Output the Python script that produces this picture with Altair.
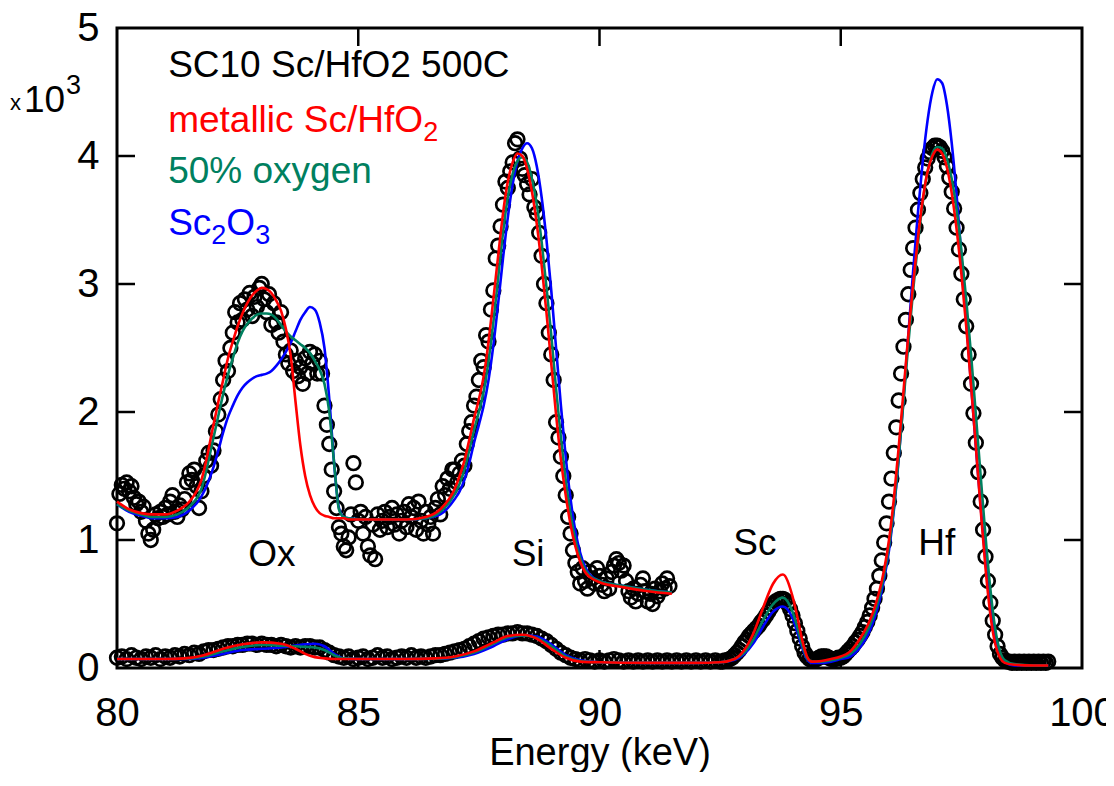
import altair as alt
import pandas as pd

FONT = "Liberation Sans"
RED = "#ff0000"
GREEN = "#00805f"
BLUE = "#0000ff"

# ---------------- measured spectrum (open circles) ----------------
# magnified copy of the low-energy part, channels every 0.05 keV from 80.00 keV
upper_counts = [
    1.13, 1.36, 1.43, 1.40, 1.45, 1.38, 1.42, 1.33, 1.28, 1.30, 1.22, 1.26, 1.15, 1.05, 1.00, 1.08, 1.20, 1.17, 1.22, 1.18,
    1.25, 1.20, 1.30, 1.35, 1.22, 1.18, 1.27, 1.24, 1.32, 1.45, 1.52, 1.47, 1.55, 1.42, 1.25, 1.38, 1.50, 1.62, 1.68, 1.58,
    1.70, 1.85, 1.98, 2.10, 2.25, 2.40, 2.32, 2.50, 2.62, 2.78, 2.70, 2.85, 2.72, 2.88, 2.80, 2.93, 2.75, 2.90, 2.82, 2.97,
    3.00, 2.88, 2.78, 2.92, 2.68, 2.85, 2.70, 2.62, 2.78, 2.55, 2.45, 2.38, 2.48, 2.32, 2.40, 2.28, 2.35, 2.22, 2.42, 2.30,
    2.47, 2.38, 2.45, 2.30, 2.40, 2.30, 2.05, 1.90, 1.75, 1.55, 1.38, 1.25, 1.10, 1.05, 0.95, 0.92, 1.02, 1.20, 1.60, 1.45,
    1.15, 1.22, 1.05, 1.18, 0.95, 0.88, 1.12, 0.85, 1.20, 1.08, 1.15, 1.22, 1.10, 1.18, 1.25, 1.12, 1.20, 1.05, 1.15, 1.22,
    1.10, 1.28, 1.18, 1.25, 1.08, 1.30, 1.15, 1.05, 1.22, 1.12, 1.18, 1.05, 1.25, 1.32, 1.20, 1.42, 1.35, 1.48, 1.40, 1.55,
    1.55, 1.45, 1.52, 1.62, 1.58, 1.75, 1.85, 1.92, 2.05, 2.12, 2.25, 2.40, 2.35, 2.60, 2.55, 2.80, 2.95, 3.20, 3.30, 3.45,
    3.62, 3.80, 3.75, 3.88, 3.95, 4.10, 4.13, 3.98, 3.90, 3.85, 3.78, 3.70, 3.82, 3.60, 3.55, 3.40, 3.22, 3.00, 2.85, 2.62,
    2.45, 2.25, 1.92, 1.80, 1.65, 1.50, 1.35, 1.18, 1.05, 0.92, 0.82, 0.75, 0.66, 0.78, 0.68, 0.62, 0.75, 0.70, 0.66, 0.78,
    0.72, 0.65, 0.60, 0.70, 0.62, 0.75, 0.80, 0.85, 0.82, 0.76, 0.80, 0.68, 0.60, 0.55, 0.62, 0.52, 0.58, 0.65, 0.70, 0.60,
    0.52, 0.58, 0.50, 0.62, 0.56, 0.60, 0.66, 0.62, 0.70, 0.64,
]
# full spectrum, 80.0-92.4 keV every 0.1 keV
lower_counts_a = [
    0.08, 0.09, 0.07, 0.10, 0.08, 0.07, 0.09, 0.08, 0.10, 0.07,
    0.09, 0.08, 0.10, 0.09, 0.11, 0.10, 0.12, 0.11, 0.13, 0.14,
    0.14, 0.15, 0.16, 0.17, 0.17, 0.18, 0.18, 0.19, 0.19, 0.18,
    0.19, 0.18, 0.18, 0.17, 0.18, 0.17, 0.16, 0.17, 0.16, 0.17,
    0.17, 0.16, 0.16, 0.14, 0.12, 0.10, 0.09, 0.08, 0.09, 0.07,
    0.08, 0.09, 0.07, 0.08, 0.10, 0.08, 0.09, 0.07, 0.08, 0.09,
    0.08, 0.10, 0.08, 0.09, 0.08, 0.09, 0.10, 0.10, 0.11, 0.12,
    0.13, 0.14, 0.15, 0.17, 0.19, 0.21, 0.23, 0.24, 0.25, 0.26,
    0.26, 0.27, 0.27, 0.28, 0.27, 0.27, 0.26, 0.25, 0.23, 0.21,
    0.18, 0.15, 0.12, 0.10, 0.08, 0.07, 0.06, 0.07, 0.06, 0.05,
    0.06, 0.05, 0.06, 0.07, 0.06, 0.05, 0.06, 0.05, 0.06, 0.05,
    0.06, 0.05, 0.06, 0.05, 0.06, 0.05, 0.06, 0.05, 0.06, 0.05,
    0.06, 0.05, 0.06, 0.05, 0.06,
]
# full spectrum, 92.50-99.30 keV every 0.05 keV
lower_counts_b = [
    0.05, 0.05, 0.06, 0.06, 0.07, 0.08, 0.10, 0.12, 0.14, 0.17,
    0.20, 0.22, 0.25, 0.27, 0.29, 0.31, 0.33, 0.36, 0.38, 0.41,
    0.44, 0.47, 0.50, 0.52, 0.53, 0.54, 0.54, 0.53, 0.50, 0.46,
    0.41, 0.35, 0.29, 0.23, 0.17, 0.12, 0.09, 0.07, 0.06, 0.06,
    0.07, 0.08, 0.09, 0.09, 0.09, 0.08, 0.07, 0.07, 0.07, 0.08,
    0.08, 0.09, 0.11, 0.13, 0.15, 0.17, 0.20, 0.22, 0.25, 0.28,
    0.32, 0.36, 0.41, 0.47, 0.54, 0.62, 0.72, 0.84, 0.98, 1.13,
    1.30, 1.48, 1.68, 1.88, 2.09, 2.30, 2.51, 2.72, 2.92, 3.11,
    3.28, 3.44, 3.58, 3.71, 3.82, 3.91, 3.98, 4.03, 4.06, 4.08,
    4.08, 4.07, 4.04, 3.99, 3.92, 3.83, 3.72, 3.59, 3.44, 3.27,
    3.08, 2.88, 2.67, 2.45, 2.22, 1.99, 1.76, 1.53, 1.30, 1.08,
    0.87, 0.68, 0.51, 0.37, 0.26, 0.17, 0.11, 0.08, 0.06, 0.05,
    0.05, 0.04, 0.05, 0.04, 0.05, 0.04, 0.05, 0.04, 0.05, 0.04,
    0.05, 0.04, 0.05, 0.04, 0.05, 0.04, 0.05,
]

# ---------------- simulated fits (lines) ----------------
U_X = [80.0, 80.25, 80.5, 80.75, 81.0, 81.25, 81.5, 81.75,
       82.0, 82.1, 82.2, 82.3, 82.4, 82.5, 82.6, 82.7, 82.8, 82.9,
       83.0, 83.1, 83.2, 83.3, 83.4, 83.5, 83.6, 83.7, 83.8, 83.9,
       84.0, 84.1, 84.2, 84.3, 84.4, 84.5, 84.6, 84.7, 84.8,
       85.2, 85.6, 86.0, 86.4, 86.7,
       87.0, 87.1, 87.2, 87.3, 87.4, 87.5, 87.6, 87.7, 87.8, 87.9,
       88.0, 88.1, 88.2, 88.3, 88.4, 88.5, 88.6, 88.7, 88.8, 88.9,
       89.0, 89.1, 89.2, 89.3, 89.4, 89.5, 89.6, 89.7, 89.8,
       90.0, 90.5, 91.0, 91.5]
U_RED = [1.30, 1.24, 1.21, 1.20, 1.20, 1.23, 1.30, 1.47,
         1.90, 2.08, 2.25, 2.42, 2.55, 2.67, 2.77, 2.85, 2.91, 2.95,
         2.97, 2.96, 2.93, 2.87, 2.79, 2.65, 2.44, 2.08, 1.74, 1.50,
         1.35, 1.26, 1.21, 1.19, 1.18, 1.17, 1.17, 1.17, 1.16,
         1.16, 1.16, 1.16, 1.18, 1.24,
         1.40, 1.50, 1.62, 1.78, 1.95, 2.10, 2.28, 2.55, 2.88, 3.22,
         3.55, 3.80, 3.95, 4.02, 4.00, 3.90, 3.72, 3.47, 3.15, 2.78,
         2.38, 1.98, 1.63, 1.35, 1.12, 0.95, 0.83, 0.75, 0.71,
         0.67, 0.63, 0.60, 0.58]
U_GREEN = [1.28, 1.23, 1.20, 1.18, 1.18, 1.20, 1.26, 1.40,
           1.80, 1.97, 2.14, 2.29, 2.42, 2.54, 2.63, 2.69, 2.73, 2.76,
           2.77, 2.77, 2.76, 2.73, 2.68, 2.63, 2.59, 2.56, 2.53, 2.50,
           2.46, 2.40, 2.33, 2.22, 2.00, 1.60, 1.24, 1.18, 1.17,
           1.16, 1.16, 1.16, 1.17, 1.22,
           1.36, 1.44, 1.55, 1.70, 1.86, 2.00, 2.16, 2.40, 2.70, 3.05,
           3.40, 3.68, 3.86, 3.96, 3.99, 3.95, 3.82, 3.62, 3.33, 2.98,
           2.60, 2.18, 1.80, 1.47, 1.20, 1.00, 0.86, 0.77, 0.72,
           0.68, 0.64, 0.61, 0.59]
U_BLUE = [1.28, 1.22, 1.19, 1.17, 1.17, 1.18, 1.23, 1.34,
          1.57, 1.70, 1.84, 1.96, 2.05, 2.13, 2.19, 2.23, 2.26, 2.28,
          2.29, 2.30, 2.32, 2.36, 2.41, 2.47, 2.54, 2.63, 2.72, 2.78,
          2.82, 2.80, 2.70, 2.50, 2.10, 1.60, 1.25, 1.18, 1.17,
          1.16, 1.16, 1.16, 1.17, 1.20,
          1.32, 1.38, 1.47, 1.60, 1.76, 1.90, 2.05, 2.25, 2.52, 2.85,
          3.20, 3.52, 3.78, 3.96, 4.06, 4.10, 4.06, 3.92, 3.68, 3.35,
          2.95, 2.50, 2.05, 1.65, 1.32, 1.07, 0.90, 0.79, 0.73,
          0.68, 0.64, 0.61, 0.59]

L_X = [80.0, 80.5, 81.0, 81.4, 81.8, 82.2, 82.6, 83.0, 83.4, 83.7,
       83.9, 84.1, 84.3, 84.5, 84.7, 85.0, 86.0, 86.6, 87.0, 87.4,
       87.8, 88.1, 88.4, 88.7, 89.0, 89.3, 89.6, 90.0, 91.0, 92.0,
       92.5, 92.8, 93.0, 93.2, 93.4, 93.6, 93.8, 94.0, 94.1, 94.2,
       94.3, 94.4, 94.6, 94.8, 95.0, 95.2, 95.4, 95.6, 95.7, 95.8,
       95.9, 96.0, 96.1, 96.2, 96.3, 96.4, 96.5, 96.6, 96.7, 96.8,
       96.9, 97.0, 97.1, 97.2, 97.3, 97.4, 97.5, 97.6, 97.7, 97.8,
       97.9, 98.0, 98.1, 98.2, 98.3, 98.4, 98.6, 99.0, 99.3]
L_RED = [0.07, 0.07, 0.07, 0.075, 0.10, 0.15, 0.185, 0.20, 0.19, 0.15,
         0.11, 0.085, 0.075, 0.07, 0.07, 0.07, 0.07, 0.075, 0.09, 0.13,
         0.20, 0.25, 0.26, 0.23, 0.15, 0.08, 0.05, 0.045, 0.04, 0.04,
         0.045, 0.07, 0.14, 0.28, 0.48, 0.66, 0.73, 0.56, 0.40, 0.22,
         0.09, 0.05, 0.055, 0.07, 0.09, 0.13, 0.23, 0.37, 0.47, 0.60,
         0.77, 1.00, 1.32, 1.72, 2.16, 2.60, 3.00, 3.36, 3.66, 3.88,
         4.00, 4.05, 4.02, 3.91, 3.71, 3.43, 3.08, 2.67, 2.21, 1.73,
         1.24, 0.78, 0.42, 0.19, 0.08, 0.04, 0.025, 0.02, 0.02]
L_GREEN = [0.07, 0.07, 0.07, 0.072, 0.09, 0.13, 0.165, 0.18, 0.175, 0.17,
           0.165, 0.16, 0.14, 0.10, 0.075, 0.07, 0.07, 0.073, 0.085, 0.12,
           0.19, 0.24, 0.255, 0.235, 0.17, 0.09, 0.055, 0.045, 0.04, 0.04,
           0.045, 0.07, 0.12, 0.23, 0.38, 0.50, 0.55, 0.44, 0.32, 0.18,
           0.08, 0.05, 0.05, 0.06, 0.08, 0.11, 0.19, 0.33, 0.43, 0.56,
           0.73, 0.95, 1.25, 1.64, 2.08, 2.53, 2.95, 3.32, 3.64, 3.88,
           4.02, 4.07, 4.06, 3.98, 3.82, 3.58, 3.26, 2.88, 2.45, 1.98,
           1.50, 1.03, 0.62, 0.31, 0.13, 0.06, 0.03, 0.02, 0.02]
L_BLUE = [0.07, 0.07, 0.07, 0.07, 0.08, 0.11, 0.14, 0.15, 0.16, 0.175,
          0.185, 0.19, 0.17, 0.11, 0.075, 0.07, 0.07, 0.072, 0.08, 0.11,
          0.17, 0.225, 0.255, 0.245, 0.185, 0.10, 0.06, 0.045, 0.04, 0.04,
          0.045, 0.065, 0.11, 0.20, 0.33, 0.44, 0.48, 0.39, 0.28, 0.16,
          0.07, 0.04, 0.04, 0.05, 0.07, 0.09, 0.16, 0.29, 0.39, 0.52,
          0.70, 0.92, 1.23, 1.63, 2.10, 2.60, 3.10, 3.56, 3.96, 4.28,
          4.50, 4.60, 4.57, 4.40, 4.10, 3.70, 3.22, 2.72, 2.22, 1.73,
          1.26, 0.84, 0.49, 0.24, 0.10, 0.045, 0.02, 0.02, 0.02]

# ---------------- text ----------------
legend_x = 81.06
legend_y = [4.62, 4.19, 3.79, 3.38]
peak_text = ["Ox", "Si", "Sc", "Hf"]
peak_x = [83.21, 88.52, 93.22, 96.99]
peak_y = [0.80, 0.80, 0.88, 0.88]
x_ticks = [80, 85, 90, 95, 100]
y_ticks = [0, 1, 2, 3, 4, 5]

W, H = 965, 640


def grid(start, step, vals):
    return [round(start + step * i, 3) for i in range(len(vals))]


for xs, ys in ((U_X, U_RED), (U_X, U_GREEN), (U_X, U_BLUE), (L_X, L_RED), (L_X, L_GREEN), (L_X, L_BLUE)):
    assert len(xs) == len(ys), (len(xs), len(ys))

pts = pd.DataFrame({
    "x": grid(80.0, 0.05, upper_counts) + grid(80.0, 0.1, lower_counts_a) + grid(92.5, 0.05, lower_counts_b),
    "y": upper_counts + lower_counts_a + lower_counts_b,
})


def line_df(u, l):
    return pd.DataFrame({
        "x": U_X + L_X,
        "y": u + l,
        "part": ["upper"] * len(U_X) + ["lower"] * len(L_X),
    })


xscale = alt.Scale(domain=[80, 100], nice=False, zero=False)
yscale = alt.Scale(domain=[0, 5], nice=False, zero=False)
xaxis = alt.Axis(values=x_ticks, format="d", ticks=False, domain=False, grid=False,
                 labelFont=FONT, labelFontSize=40, labelColor="black", labelPadding=25,
                 labelFlush=False, labelOverlap=False,
                 title="Energy (keV)", titleFont=FONT, titleFontSize=38, titleFontWeight="normal",
                 titleColor="black", titleY=96, titleBaseline="alphabetic")
yaxis = alt.Axis(values=y_ticks, format="d", ticks=False, domain=False, grid=False,
                 labelFont=FONT, labelFontSize=40, labelColor="black", labelPadding=18,
                 labelFlush=False, labelOverlap=False, title=None)


def X(f):
    return alt.X(f, type="quantitative", scale=xscale, axis=xaxis)


def Y(f):
    return alt.Y(f, type="quantitative", scale=yscale, axis=yaxis)


ytick_df = pd.DataFrame({"v": y_ticks[1:-1]})
xtick_df = pd.DataFrame({"v": x_ticks[1:-1]})
tick_style = dict(color="black", strokeWidth=2.5)
ticks = [
    alt.Chart(ytick_df).mark_rule(**tick_style).encode(y=Y("v"), x=alt.value(0), x2=alt.value(18)),
    alt.Chart(ytick_df).mark_rule(**tick_style).encode(y=Y("v"), x=alt.value(W - 18), x2=alt.value(W)),
    alt.Chart(xtick_df).mark_rule(**tick_style).encode(x=X("v"), y=alt.value(H - 18), y2=alt.value(H)),
    alt.Chart(xtick_df).mark_rule(**tick_style).encode(x=X("v"), y=alt.value(0), y2=alt.value(18)),
]

points = alt.Chart(pts).mark_point(shape="circle", filled=False, stroke="black",
                                   strokeWidth=2.7, size=185, opacity=1).encode(x=X("x"), y=Y("y"))


def fit_line(u, l, color):
    return alt.Chart(line_df(u, l)).mark_line(color=color, strokeWidth=2.6, interpolate="monotone").encode(
        x=X("x"), y=Y("y"), detail="part:N")


lines = [fit_line(U_BLUE, L_BLUE, BLUE), fit_line(U_GREEN, L_GREEN, GREEN), fit_line(U_RED, L_RED, RED)]


def seg(text, row, color, dx=0, dy=0, size=37):
    d = pd.DataFrame({"x": [legend_x], "y": [legend_y[row]]})
    return alt.Chart(d).mark_text(text=text, font=FONT, fontSize=size, align="left", baseline="alphabetic",
                                  color=color, dx=dx, dy=dy).encode(x=X("x"), y=Y("y"))


legend = [
    seg("SC10 Sc/HfO2 500C", 0, "black"),
    seg("metallic Sc/HfO", 1, RED),
    seg("2", 1, RED, dx=255, dy=9, size=27),
    seg("50% oxygen", 2, GREEN),
    seg("Sc", 3, BLUE),
    seg("2", 3, BLUE, dx=43, dy=9, size=27),
    seg("O", 3, BLUE, dx=58),
    seg("3", 3, BLUE, dx=87, dy=9, size=27),
]

pk_df = pd.DataFrame({"x": peak_x, "y": peak_y, "t": peak_text})
peaks = alt.Chart(pk_df).mark_text(font=FONT, fontSize=37, align="center", baseline="alphabetic",
                                   color="black").encode(x=X("x"), y=Y("y"), text="t:N")

one = pd.DataFrame({"a": [0]})
mult = [
    alt.Chart(one).mark_text(text="x", font=FONT, fontSize=22, align="left", baseline="alphabetic",
                             color="black").encode(x=alt.value(-107), y=alt.value(82)),
    alt.Chart(one).mark_text(text="10", font=FONT, fontSize=37, align="left", baseline="alphabetic",
                             color="black").encode(x=alt.value(-93), y=alt.value(84)),
    alt.Chart(one).mark_text(text="3", font=FONT, fontSize=27, align="left", baseline="alphabetic",
                             color="black").encode(x=alt.value(-51), y=alt.value(66)),
]

chart = alt.layer(*ticks, points, *lines, *legend, peaks, *mult).properties(
    width=W, height=H,
    autosize=alt.AutoSizeParams(type="none"),
    padding={"left": 109, "top": 20, "right": 24, "bottom": 104},
).configure(background="white").configure_view(stroke="black", strokeWidth=3)

chart.save("out.html", embed_options={"renderer": "svg", "actions": False})
